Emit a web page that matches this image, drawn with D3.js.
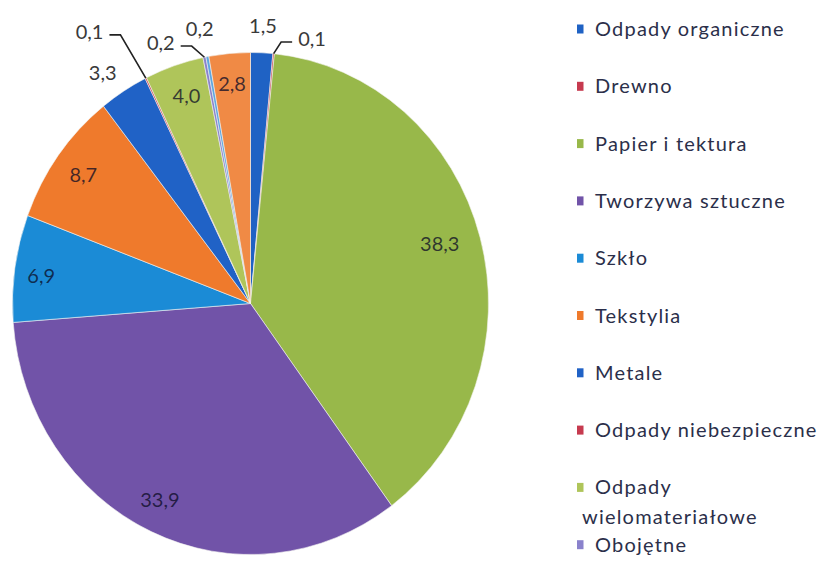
<!DOCTYPE html>
<html>
<head>
<meta charset="utf-8">
<script src="https://cdn.jsdelivr.net/npm/d3@7/dist/d3.min.js"></script>
<style>
  html, body { margin: 0; padding: 0; background: #fff; }
  svg { display: block; }
  .legend text { font-family: Lato, "Open Sans", sans-serif; font-size: 20px; fill: #2b2f4a; letter-spacing: 1.2px; }
  .label { font-family: Lato, "Open Sans", sans-serif; font-size: 20px; }
</style>
</head>
<body>
<script>
// Morfologia odpadów (%), kolejno zgodnie z ruchem wskazówek zegara od godziny 12
const categories = [
  "Odpady organiczne", "Drewno", "Papier i tektura", "Tworzywa sztuczne",
  "Szkło", "Tekstylia", "Metale", "Odpady niebezpieczne",
  "Odpady wielomateriałowe", "Obojętne", "Frakcja drobna", "Inne"
];
const values = [1.5, 0.1, 38.3, 33.9, 6.9, 8.7, 3.3, 0.1, 4.0, 0.2, 0.2, 2.8];
const colors = [
  "#1f62c4", "#c63a4f", "#98b84a", "#7153a8",
  "#1b8bd6", "#ef7a2c", "#2062c6", "#c63a4f",
  "#afc55a", "#8a82cc", "#5ea6e0", "#f08a45"
];

// label placement: inside / outside / outside with a leader line
// r = radius as a share of the pie radius, shift = degrees from the slice middle
const labelLayout = [
  { r: 1.107, shift: 0 },
  { r: 1.085, shift: 8.2, leader: true },
  { r: 0.83, shift: -1.4, inside: true },
  { r: 0.87, shift: 1.3, inside: true },
  { r: 0.886, shift: -1.0, inside: true },
  { r: 0.87, shift: 0, inside: true },
  { r: 1.11, shift: -1.8 },
  { r: 1.276, shift: -5.9, leader: true },
  { r: 0.87, shift: 0.7, inside: true },
  { r: 1.104, shift: -8.8, leader: true },
  { r: 1.114, shift: -0.6 },
  { r: 0.88, shift: 0, inside: true }
];

const width = 822, height = 561;
const cx = 250.5, cy = 303.5, rx = 238, ry = 251;

const svg = d3.select("body").append("svg")
  .attr("width", width)
  .attr("height", height)
  .attr("viewBox", `0 0 ${width} ${height}`);

const data = categories.map((name, i) => ({ name, value: values[i], color: colors[i] }));
const arcs = d3.pie().sort(null).value((d) => d.value)(data);

// the scanned pie is slightly taller than wide, so squeeze it horizontally
const arc = d3.arc().innerRadius(0).outerRadius(ry);
svg.append("g")
  .attr("transform", `translate(${cx},${cy}) scale(${rx / ry},1)`)
  .selectAll("path")
  .data(arcs)
  .enter()
  .append("path")
  .attr("d", arc)
  .attr("fill", (d) => d.data.color)
  .attr("stroke", "#f4f4f0")
  .attr("stroke-width", 0.6)
  .attr("vector-effect", "non-scaling-stroke");

// point on the (elliptic) pie at relative radius r and angle a
function pt(r, a) {
  return [cx + r * rx * Math.sin(a), cy - r * ry * Math.cos(a)];
}

const fmt = (v) => d3.format(".1f")(v).replace(".", ",");
const labels = svg.append("g");

arcs.forEach((d, i) => {
  const lay = labelLayout[i];
  const mid = (d.startAngle + d.endAngle) / 2;
  const [x, y] = pt(lay.r, mid + (lay.shift * Math.PI) / 180);

  const t = labels.append("text")
    .attr("class", "label")
    .attr("x", x)
    .attr("y", y)
    .attr("dy", "0.36em")
    .attr("text-anchor", "middle")
    .text(fmt(d.value));

  if (lay.inside) {
    t.attr("fill", "#0b0b25").attr("fill-opacity", 0.75);
  } else {
    t.attr("fill", "#3a3a3a");
  }

  if (lay.leader) {
    // elbow line from the slice edge to the side of the label
    const w = t.node().getComputedTextLength();
    const [ex, ey] = pt(1.0, mid);
    const dir = ex > x ? 1 : -1;
    const sx = x + dir * (w / 2 + 6);
    const ly = y + 3;
    const kx = sx + dir * 11;
    labels.append("path")
      .attr("d", `M${sx},${ly}L${kx},${ly}L${ex},${ey}`)
      .attr("fill", "none")
      .attr("stroke", "#222")
      .attr("stroke-width", 1.6);
  }
});

// legend on the right; entries that fall below the chart area are not drawn
const legendX = 577, textX = 595, legendTop = 29, legendStep = 57.3, maxText = 235;
const legend = svg.append("g").attr("class", "legend");

data.forEach((d, i) => {
  const y = legendTop + i * legendStep;
  if (y + 8 > height) return;

  legend.append("rect")
    .attr("x", legendX)
    .attr("y", y - 4.5)
    .attr("width", 6.5)
    .attr("height", 9)
    .attr("fill", d.color);

  const t = legend.append("text")
    .attr("x", textX)
    .attr("y", y)
    .attr("dy", "0.35em")
    .text(d.name);

  // wrap long names onto a second line, as the original legend does
  if (t.node().getComputedTextLength() > maxText) {
    const words = d.name.split(" ");
    t.text(words[0]);
    legend.append("text")
      .attr("x", legendX + 5)
      .attr("y", y + 30)
      .attr("dy", "0.35em")
      .text(words.slice(1).join(" "));
  }
});
</script>
</body>
</html>
